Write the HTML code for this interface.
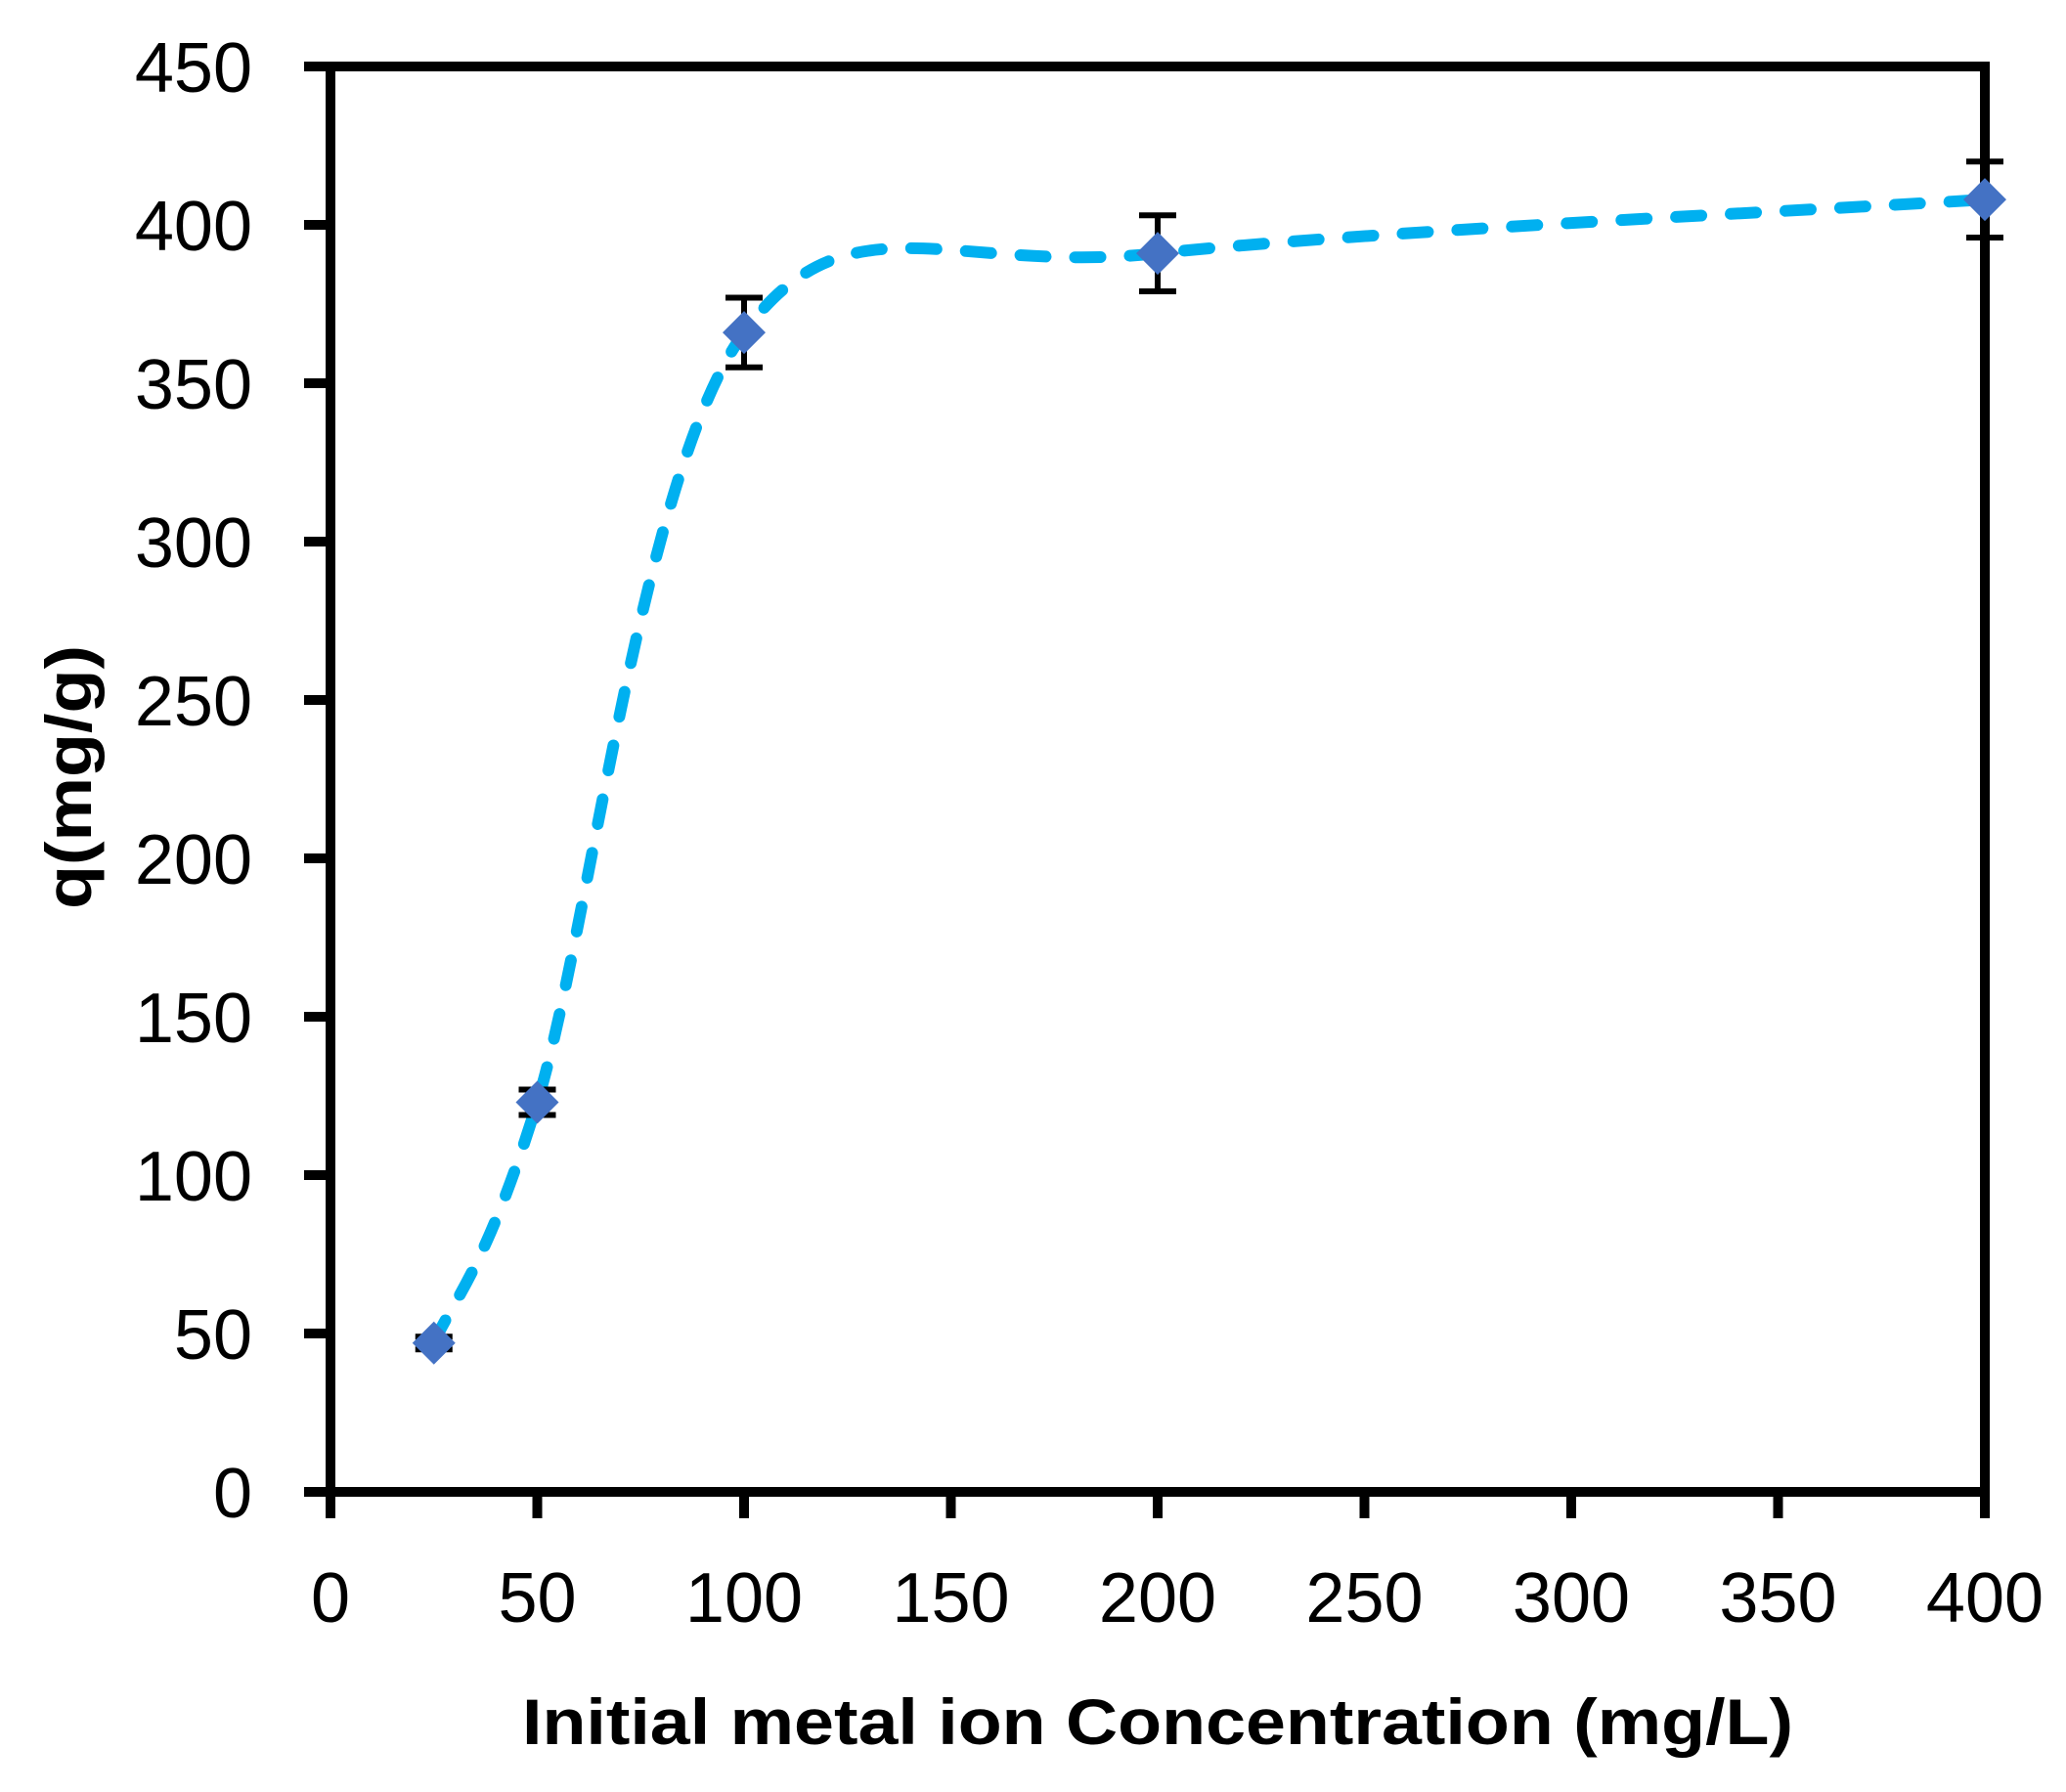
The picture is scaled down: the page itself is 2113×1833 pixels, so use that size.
<!DOCTYPE html>
<html><head><meta charset="utf-8"><style>
html,body{margin:0;padding:0;background:#fff;}
svg{display:block;font-family:"Liberation Sans",sans-serif;}
</style></head><body>
<svg id="chart" width="2113" height="1833" viewBox="0 0 2113 1833">
<g id="plot"></g>
</svg>
<script>
const xValues=[25,50,100,200,400];
const yValues=[47,123,366,391,408];
const yErrors=[2,4,11,12,12];
const xTicks=[0,50,100,150,200,250,300,350,400];
const yTicks=[0,50,100,150,200,250,300,350,400,450];
const L=338,R=2030,T=68,B=1526;
const xs=v=>L+(v-0)/400*(R-L);
const ys=v=>B-(v-0)/450*(B-T);
const NS="http://www.w3.org/2000/svg";
const g=document.getElementById('plot');
function mk(tag,attrs,parent){const e=document.createElementNS(NS,tag);for(const k in attrs)e.setAttribute(k,attrs[k]);(parent||g).appendChild(e);return e;}
// ticks
yTicks.forEach(t=>{
  const ln=mk('line',{x1:311,x2:L,y1:ys(t),y2:ys(t),stroke:'#000','stroke-width':10});
  
  
  const tx=mk('text',{x:258,y:ys(t)+26,'text-anchor':'end','font-size':72,fill:'#000'});
  tx.textContent=t;
  
  
});
xTicks.forEach(t=>{
  const ln=mk('line',{x1:xs(t),x2:xs(t),y1:B,y2:1553,stroke:'#000','stroke-width':10});
  
  
  const tx=mk('text',{x:xs(t),y:1659,'text-anchor':'middle','font-size':72,fill:'#000'});
  tx.textContent=t;
  
  
});
// frame
const fr=mk('rect',{x:L,y:T,width:R-L,height:B-T,fill:'none',stroke:'#000','stroke-width':10});


// smooth curve
const P=xValues.map((x,i)=>[xs(x),ys(yValues[i])]);
let d=`M${P[0][0]},${P[0][1]}`;
for(let i=0;i<P.length-1;i++){
  const p0=P[i-1]||P[i],p1=P[i],p2=P[i+1],p3=P[i+2]||P[i+1];
  const c1=[p1[0]+(p2[0]-p0[0])/6,p1[1]+(p2[1]-p0[1])/6];
  const c2=[p2[0]-(p3[0]-p1[0])/6,p2[1]-(p3[1]-p1[1])/6];
  d+=` C${c1[0]},${c1[1]} ${c2[0]},${c2[1]} ${p2[0]},${p2[1]}`;
}
const cv=mk('path',{d:d,fill:'none',stroke:'#00B0F0','stroke-width':12,'stroke-dasharray':'26 30','stroke-linecap':'round'});


// error bars and markers
xValues.forEach((x,i)=>{
  const cx=xs(x),top=ys(yValues[i]+yErrors[i]),bot=ys(yValues[i]-yErrors[i]);
  const eb=mk('path',{d:`M${cx},${top}V${bot}M${cx-19},${top}H${cx+19}M${cx-19},${bot}H${cx+19}`,stroke:'#000','stroke-width':6,fill:'none'});
  
  
});
xValues.forEach((x,i)=>{
  const cx=xs(x),cy=ys(yValues[i]),s=22;
  const m=mk('polygon',{points:`${cx},${cy-s} ${cx+s},${cy} ${cx},${cy+s} ${cx-s},${cy}`,fill:'#4472C4'});
  
  
});
// titles
const xt=mk('text',{x:1184,y:1784,'text-anchor':'middle','font-size':66,'font-weight':'bold',fill:'#000',textLength:1300,lengthAdjust:'spacingAndGlyphs'});
xt.textContent='Initial metal ion Concentration (mg/L)';


const yt=mk('text',{x:0,y:0,'text-anchor':'middle','font-size':66,'font-weight':'bold',fill:'#000',transform:'translate(93,795) rotate(-90)',textLength:270,lengthAdjust:'spacingAndGlyphs'});
yt.textContent='q(mg/g)';


</script>
</body></html>
